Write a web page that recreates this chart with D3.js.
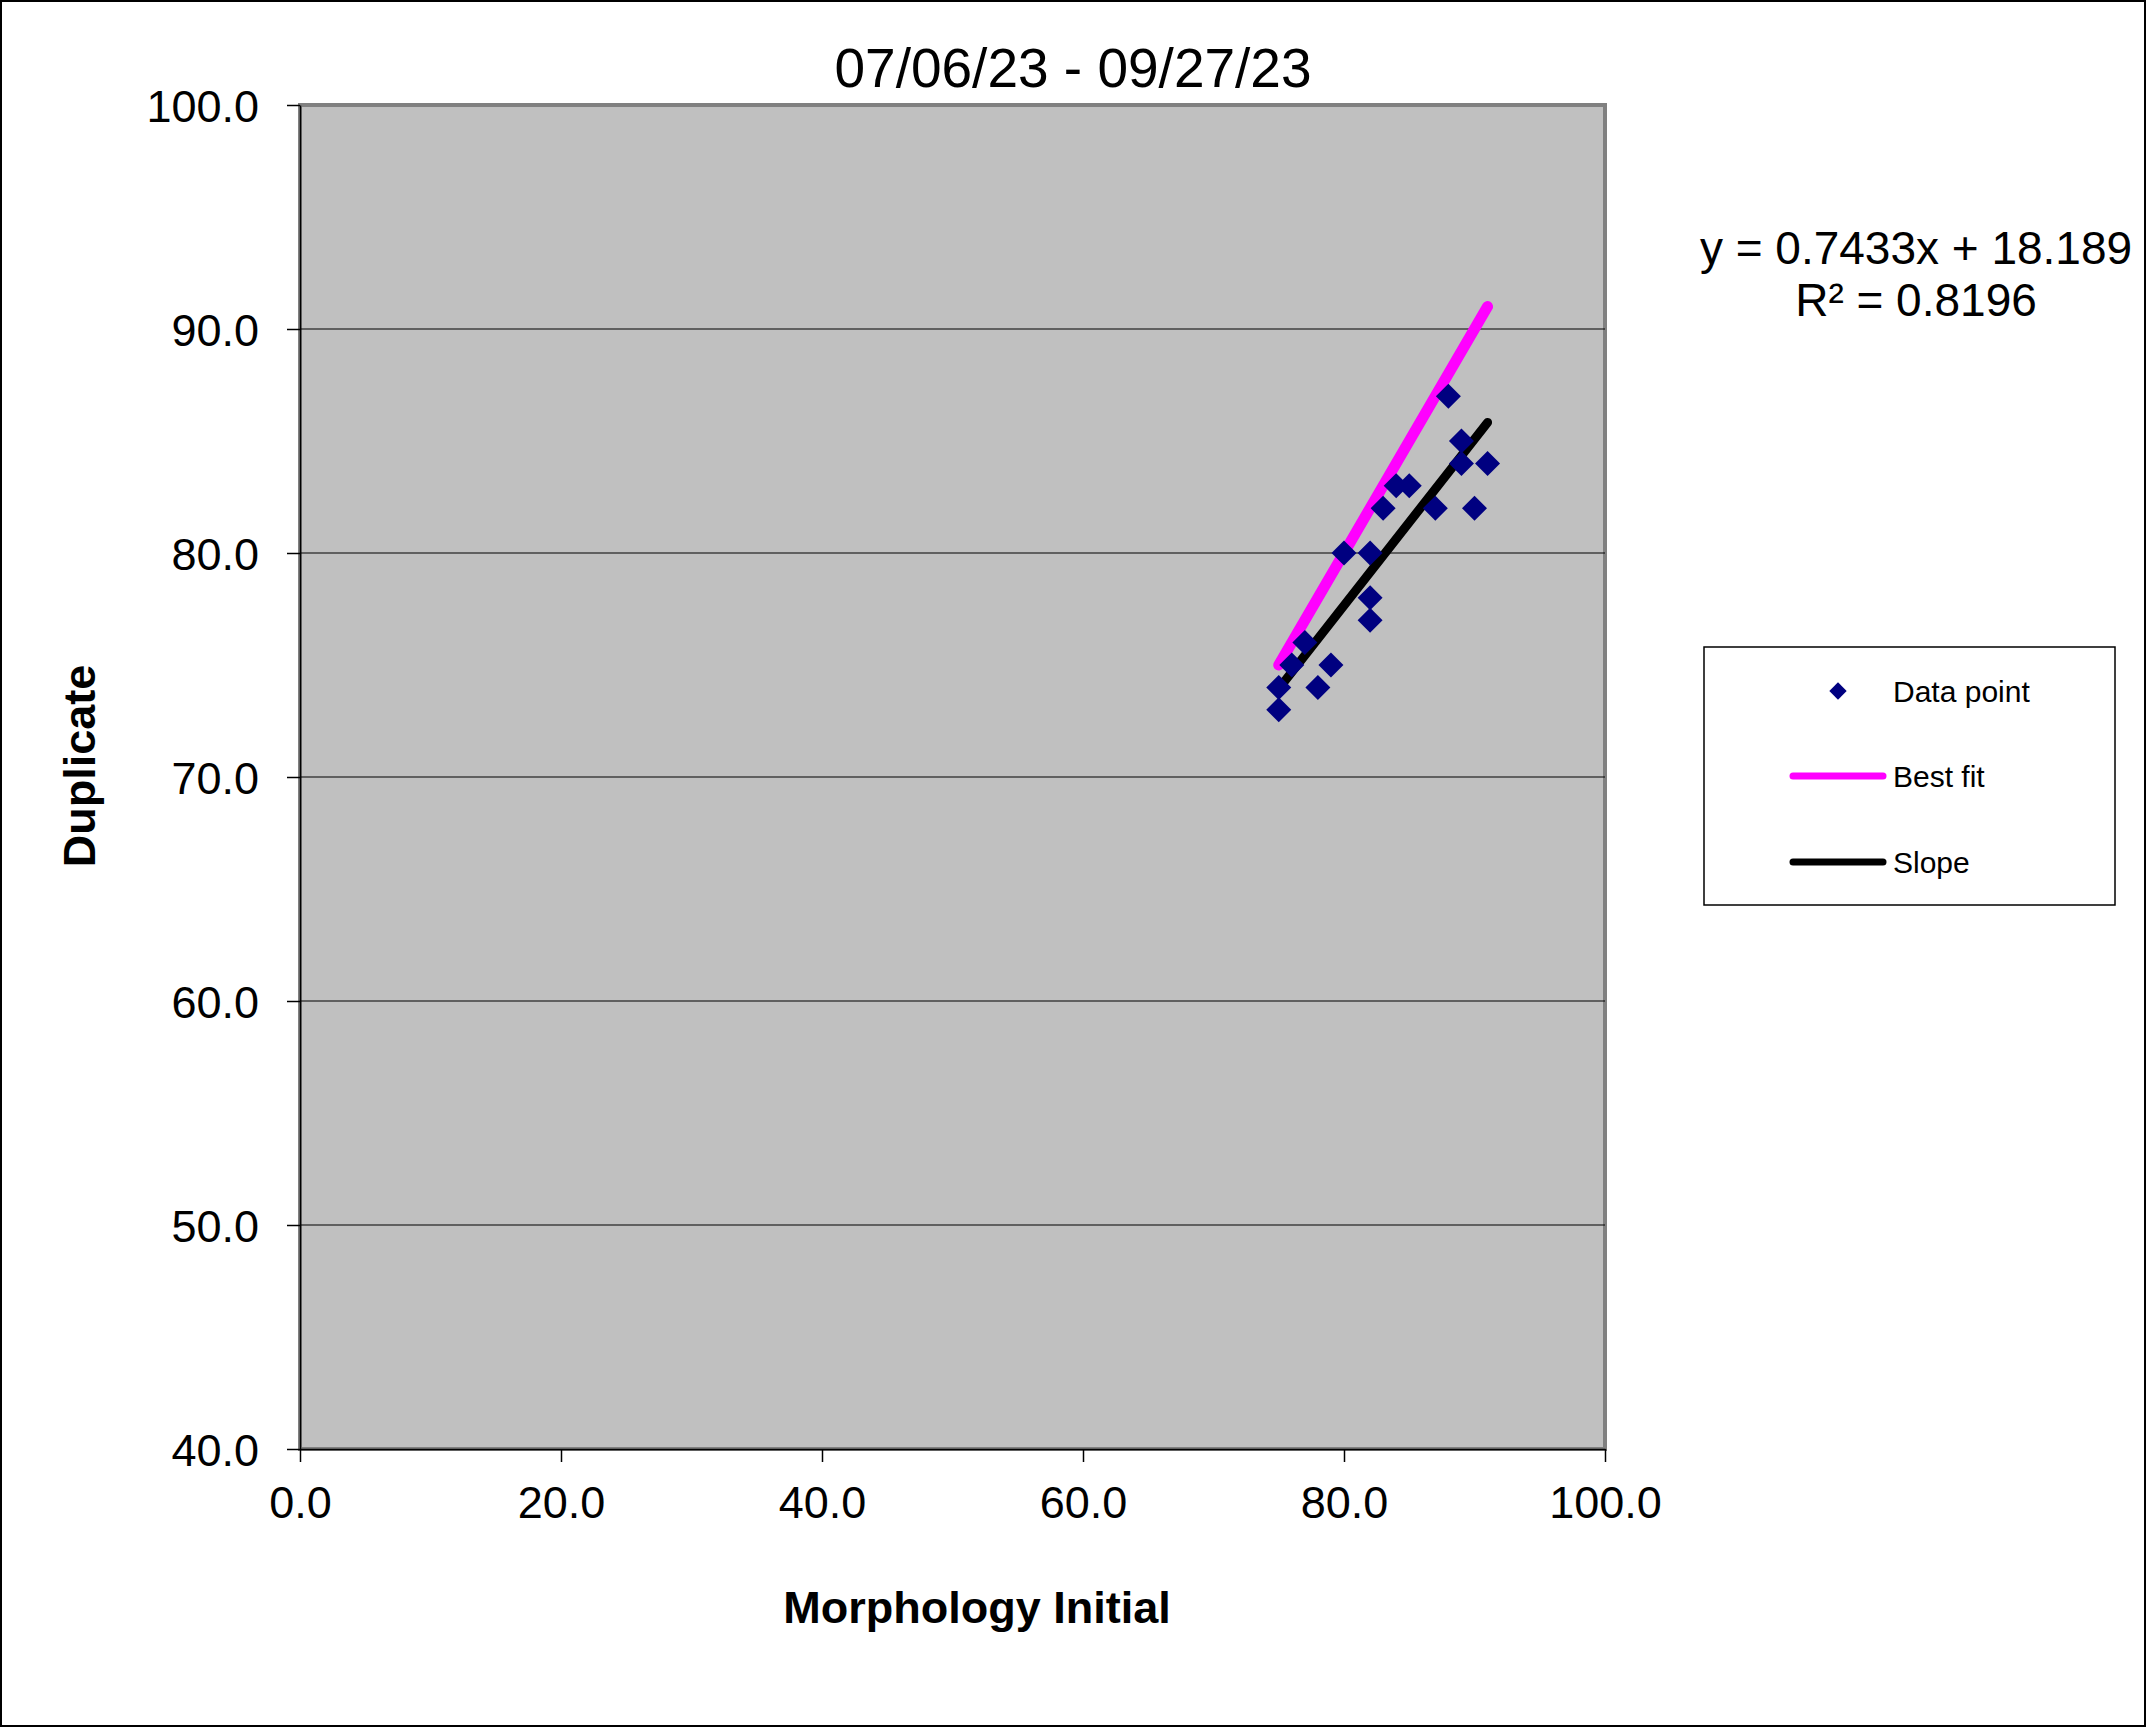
<!DOCTYPE html>
<html>
<head>
<meta charset="utf-8">
<script src="https://cdn.jsdelivr.net/npm/d3@7"></script>
<style>
  body { margin: 0; background: #fff; }
  text { font-family: "Liberation Sans", Arial, sans-serif; }
</style>
</head>
<body>
<div id="chart"></div>
<script>
// scatter points (Morphology Initial vs Duplicate)
const initialX = [88, 89, 89, 91, 84, 85, 83, 87, 90, 80, 82, 82, 82, 77, 76, 79, 75, 78, 75]
const duplicateY = [87, 85, 84, 84, 83, 83, 82, 82, 82, 80, 80, 78, 77, 76, 75, 75, 74, 74, 73]

// line end points
const bestFitX = [75, 91]
const bestFitY = [75, 91]
const slopeX = [75, 91]
const slopeY = [73.94, 85.83]

const xTicks = [0, 20, 40, 60, 80, 100]
const yTicks = [40, 50, 60, 70, 80, 90, 100]

const titleText = "07/06/23 - 09/27/23"
const xTitle = "Morphology Initial"
const yTitle = "Duplicate"
const equationLines = ["y = 0.7433x + 18.189", "R² = 0.8196"]
const legendNames = ["Data point", "Best fit", "Slope"]

const config = {
    width: 2146,
    height: 1727,
    margin: { top: 105, right: 541, bottom: 278, left: 300 }
}
const plotW = config.width - config.margin.left - config.margin.right
const plotH = config.height - config.margin.top - config.margin.bottom

const svg = d3.select("#chart").append("svg")
    .attr("width", config.width)
    .attr("height", config.height)

svg.append("rect")
    .attr("x", 1).attr("y", 1)
    .attr("width", config.width - 2).attr("height", config.height - 2)
    .attr("fill", "#fff")
    .attr("stroke", "#000")
    .attr("stroke-width", 2)

const xScale = d3.scaleLinear().domain([0, 100]).range([0, plotW])
const yScale = d3.scaleLinear().domain([40, 100]).range([plotH, 0])

const chart = svg.append("g")
    .attr("transform", `translate(${config.margin.left},${config.margin.top})`)

// plot area
chart.append("rect")
    .attr("x", 0).attr("y", 0)
    .attr("width", plotW).attr("height", plotH)
    .attr("fill", "#c0c0c0")
    .attr("stroke", "#808080")
    .attr("stroke-width", 4)

// horizontal gridlines
chart.selectAll(".grid")
    .data(yTicks.filter(d => d > 40 && d < 100))
    .join("line")
    .attr("class", "grid")
    .attr("x1", 0).attr("x2", plotW)
    .attr("y1", d => yScale(d)).attr("y2", d => yScale(d))
    .attr("stroke", "#000")
    .attr("stroke-width", 1.2)

const yAxis = d3.axisLeft(yScale)
    .tickValues(yTicks)
    .tickFormat(d3.format(".1f"))
    .tickSizeInner(13)
    .tickSizeOuter(0)
    .tickPadding(28)

const xAxis = d3.axisBottom(xScale)
    .tickValues(xTicks)
    .tickFormat(d3.format(".1f"))
    .tickSizeInner(13)
    .tickSizeOuter(0)
    .tickPadding(24)

const yAxisGroup = chart.append("g").call(yAxis)
const xAxisGroup = chart.append("g")
    .attr("transform", `translate(0,${plotH})`)
    .call(xAxis)

for (const g of [xAxisGroup, yAxisGroup]) {
    g.selectAll("text")
        .attr("font-family", "'Liberation Sans', Arial, sans-serif")
        .attr("font-size", 45)
        .attr("fill", "#000")
    g.selectAll("line").attr("stroke", "#000").attr("stroke-width", 1.5)
    g.select(".domain").attr("stroke", "#000").attr("stroke-width", 1.5)
}
yAxisGroup.selectAll("text").attr("dy", "0.36em")

// lines
const line = d3.line().x(d => xScale(d[0])).y(d => yScale(d[1]))

chart.append("path")
    .datum(d3.zip(bestFitX, bestFitY))
    .attr("d", line)
    .attr("fill", "none")
    .attr("stroke", "#ff00ff")
    .attr("stroke-width", 11)
    .attr("stroke-linecap", "round")

chart.append("path")
    .datum(d3.zip(slopeX, slopeY))
    .attr("d", line)
    .attr("fill", "none")
    .attr("stroke", "#000")
    .attr("stroke-width", 9)
    .attr("stroke-linecap", "round")

// diamonds
const diamond = d3.symbol(d3.symbolSquare, 312)
chart.selectAll(".pt")
    .data(d3.zip(initialX, duplicateY))
    .join("path")
    .attr("class", "pt")
    .attr("d", diamond)
    .attr("transform", d => `translate(${xScale(d[0])},${yScale(d[1])}) rotate(45)`)
    .attr("fill", "#000080")

// titles
svg.append("text")
    .attr("x", 1073).attr("y", 87)
    .attr("text-anchor", "middle")
    .attr("font-size", 55)
    .text(titleText)

svg.append("text")
    .attr("x", 977).attr("y", 1623)
    .attr("text-anchor", "middle")
    .attr("font-size", 45)
    .attr("font-weight", "bold")
    .text(xTitle)

svg.append("text")
    .attr("transform", "translate(95,766) rotate(-90)")
    .attr("text-anchor", "middle")
    .attr("font-size", 45)
    .attr("font-weight", "bold")
    .text(yTitle)

// trendline equation
svg.selectAll(".eq")
    .data(equationLines)
    .join("text")
    .attr("class", "eq")
    .attr("x", 1916)
    .attr("y", (d, i) => 264 + i * 52)
    .attr("text-anchor", "middle")
    .attr("font-size", 46)
    .text(d => d)

// legend
const legend = svg.append("g").attr("transform", "translate(1704,647)")
legend.append("rect")
    .attr("width", 411).attr("height", 258)
    .attr("fill", "#fff")
    .attr("stroke", "#000")
    .attr("stroke-width", 1.5)

const rowY = [44, 129, 215]
legend.append("path")
    .attr("d", d3.symbol(d3.symbolSquare, 150))
    .attr("transform", `translate(134,${rowY[0]}) rotate(45)`)
    .attr("fill", "#000080")
legend.append("line")
    .attr("x1", 89).attr("x2", 179)
    .attr("y1", rowY[1]).attr("y2", rowY[1])
    .attr("stroke", "#ff00ff").attr("stroke-width", 7).attr("stroke-linecap", "round")
legend.append("line")
    .attr("x1", 89).attr("x2", 179)
    .attr("y1", rowY[2]).attr("y2", rowY[2])
    .attr("stroke", "#000").attr("stroke-width", 7).attr("stroke-linecap", "round")

legend.selectAll(".lt")
    .data(legendNames)
    .join("text")
    .attr("class", "lt")
    .attr("x", 189)
    .attr("y", (d, i) => rowY[i] + 11)
    .attr("font-size", 30)
    .text(d => d)
</script>
</body>
</html>
